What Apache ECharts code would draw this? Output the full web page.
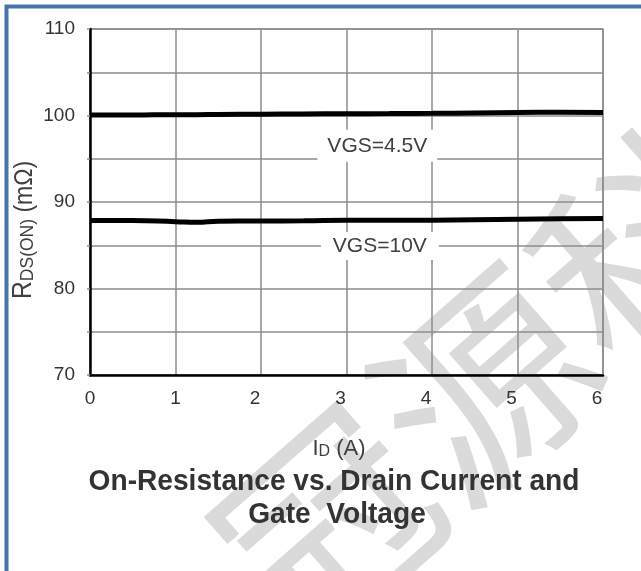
<!DOCTYPE html>
<html>
<head>
<meta charset="utf-8">
<script src="https://cdn.jsdelivr.net/npm/echarts@6/dist/echarts.min.js"></script>
<style>
  html, body { margin: 0; padding: 0; background: #fff; }
  #chart { width: 641px; height: 571px; }
</style>
</head>
<body>
<div id="chart"></div>
<script>
// Drain current (A)
const currentA = [0, 0.5, 1, 1.25, 1.5, 2, 2.5, 3, 3.5, 4, 4.5, 5, 5.5, 6];
// RDS(ON) in mΩ at VGS = 4.5 V
const rdsVgs45 = [100.05, 100.05, 100.1, 100.1, 100.12, 100.15, 100.18, 100.2, 100.22, 100.25, 100.3, 100.35, 100.38, 100.35];
// RDS(ON) in mΩ at VGS = 10 V
const rdsVgs10 = [87.85, 87.85, 87.72, 87.65, 87.78, 87.8, 87.82, 87.88, 87.88, 87.9, 87.95, 88.0, 88.05, 88.1];
// Curve labels and where they sit (A, mΩ)
const curveLabels = ['VGS=4.5V', 'VGS=10V'];
const labelAt = [[3.36, 96.5], [3.39, 84.92]];
const yTickLabels = [70, 80, 90, 100, 110];
const titleLines = ['On-Resistance vs. Drain Current and', 'Gate  Voltage'];

const sans = '"Liberation Sans", Arial, sans-serif';
const gridGray = '#8c8c8c';

function pairs(xs, ys) { return xs.map((x, i) => [x, ys[i]]); }

function curveLabel(text, coord, pad) {
  return {
    silent: true,
    symbol: 'circle',
    symbolSize: 1,
    itemStyle: { color: 'rgba(0,0,0,0)' },
    data: [{
      coord: coord,
      label: {
        show: true,
        position: 'inside',
        formatter: text,
        backgroundColor: '#ffffff',
        padding: pad,
        color: '#404040',
        fontFamily: sans,
        fontSize: 21
      }
    }]
  };
}

const chart = echarts.init(document.getElementById('chart'), null, { renderer: 'canvas' });
chart.setOption({
  backgroundColor: '#ffffff',
  animation: false,
  grid: {
    left: 90, right: 38, top: 29, bottom: 196,
    show: true,
    borderColor: gridGray,
    borderWidth: 1.5,
    backgroundColor: 'transparent'
  },
  xAxis: {
    type: 'value',
    min: 0, max: 6, interval: 1,
    axisLine: { show: true, onZero: false, lineStyle: { color: '#000', width: 2.5 } },
    axisTick: { show: false },
    axisLabel: {
      color: '#333', fontFamily: sans, fontSize: 19, margin: 14,
      formatter: v => (v >= 2 ? '{s|' + v + '}' : '{n|' + v + '}'),
      rich: {
        n: { color: '#333', fontFamily: sans, fontSize: 19 },
        s: { color: '#333', fontFamily: sans, fontSize: 19, padding: [0, 12, 0, 0] }
      }
    },
    splitLine: { show: true, lineStyle: { color: gridGray, width: 1.5 } }
  },
  yAxis: {
    type: 'value',
    min: 70, max: 110, interval: 5,
    axisLine: { show: true, onZero: false, lineStyle: { color: '#000', width: 2.5 } },
    axisTick: { show: true, length: 3, lineStyle: { color: gridGray, width: 1.5 } },
    axisLabel: {
      color: '#333', fontFamily: sans, fontSize: 19, margin: 15,
      formatter: v => (yTickLabels.indexOf(v) >= 0 ? String(v) : '')
    },
    splitLine: { show: true, lineStyle: { color: gridGray, width: 1.5 } }
  },
  graphic: [
    {
      // faint background stamp
      type: 'text',
      z: -10,
      silent: true,
      x: 485, y: 385,
      rotation: 0.72,
      style: {
        text: '冠源科',
        fill: '#dadada',
        font: '210px "Noto Sans CJK SC"',
        align: 'center',
        verticalAlign: 'middle'
      }
    },
    {
      type: 'rect',
      silent: true,
      z: 100,
      shape: { x: 6.5, y: 6.5, width: 800, height: 800 },
      style: { fill: 'none', stroke: '#4674a8', lineWidth: 4 }
    },
    {
      type: 'text',
      silent: true,
      x: 334, y: 482,
      scaleX: 0.97,
      style: {
        text: titleLines[0],
        font: 'bold 29px "Liberation Sans", Arial, sans-serif',
        fill: '#333333',
        align: 'center',
        verticalAlign: 'middle'
      }
    },
    {
      type: 'text',
      silent: true,
      x: 337, y: 515,
      scaleX: 0.97,
      style: {
        text: titleLines[1],
        font: 'bold 29px "Liberation Sans", Arial, sans-serif',
        fill: '#333333',
        align: 'center',
        verticalAlign: 'middle'
      }
    },
    {
      type: 'text',
      silent: true,
      x: 24, y: 230,
      rotation: Math.PI / 2,
      scaleX: 0.92,
      style: {
        text: '{r|R}{s|DS(ON)}{u| (mΩ)}',
        align: 'center',
        verticalAlign: 'middle',
        rich: {
          r: { fontFamily: sans, fontSize: 27, fill: '#404040', verticalAlign: 'bottom' },
          s: { fontFamily: sans, fontSize: 19, fill: '#404040', verticalAlign: 'bottom' },
          u: { fontFamily: sans, fontSize: 25, fill: '#404040', verticalAlign: 'bottom' }
        }
      }
    },
    {
      type: 'text',
      silent: true,
      x: 339, y: 449,
      style: {
        text: '{r|I}{s|D}{u| (A)}',
        align: 'center',
        verticalAlign: 'middle',
        rich: {
          r: { fontFamily: sans, fontSize: 22, fill: '#404040', verticalAlign: 'bottom' },
          s: { fontFamily: sans, fontSize: 16, fill: '#404040', verticalAlign: 'bottom' },
          u: { fontFamily: sans, fontSize: 22, fill: '#404040', verticalAlign: 'bottom' }
        }
      }
    }
  ],
  series: [
    {
      name: curveLabels[0],
      type: 'line',
      data: pairs(currentA, rdsVgs45),
      smooth: true,
      showSymbol: false,
      lineStyle: { color: '#000', width: 5 },
      z: 5,
      markPoint: curveLabel(curveLabels[0], labelAt[0], [6, 10, 5, 10])
    },
    {
      name: curveLabels[1],
      type: 'line',
      data: pairs(currentA, rdsVgs10),
      smooth: true,
      showSymbol: false,
      lineStyle: { color: '#000', width: 5 },
      z: 5,
      markPoint: curveLabel(curveLabels[1], labelAt[1], [4, 12, 3, 12])
    }
  ]
});
</script>
</body>
</html>
